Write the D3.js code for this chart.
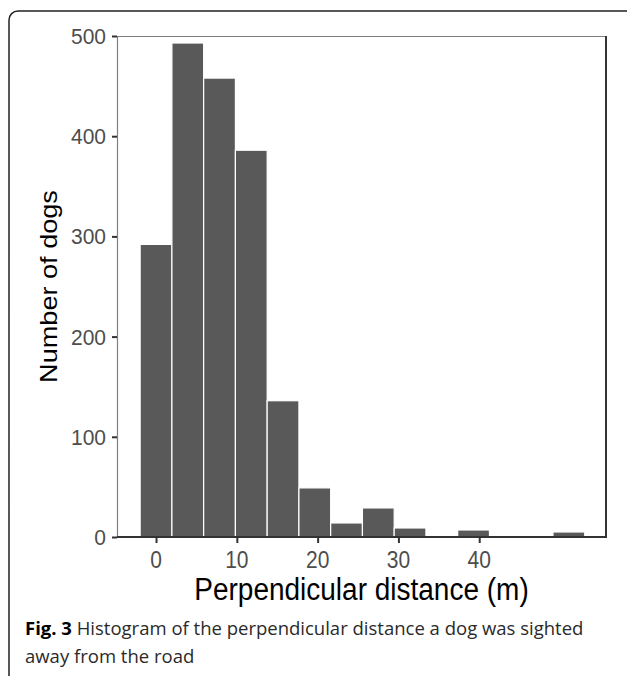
<!DOCTYPE html>
<html>
<head>
<meta charset="utf-8">
<script src="https://cdn.jsdelivr.net/npm/d3@7"></script>
<style>
  html, body { margin: 0; padding: 0; background: #fff; }
  svg { display: block; }
</style>
</head>
<body>
<svg id="chart" width="627" height="676"></svg>
<script>
// ---- data ----
const binCenters = [0, 3.93, 7.86, 11.79, 15.72, 19.65, 23.58, 27.51, 31.44, 35.37, 39.3, 43.23, 47.16, 51.09];
const binWidth = 3.93;
const counts = [292, 493, 458, 386, 136, 49, 14, 29, 9, 0, 7, 0, 0, 5];
const xTicks = [0, 10, 20, 30, 40];
const yTicks = [0, 100, 200, 300, 400, 500];
const xTitle = "Perpendicular distance (m)";
const yTitle = "Number of dogs";
const captionBold = "Fig. 3";
const captionLine1 = " Histogram of the perpendicular distance a dog was sighted";
const captionLine2 = "away from the road";

const svg = d3.select("#chart");
const panel = { left: 117, right: 606, top: 36, bottom: 537 };
const chartFont = "'Liberation Sans', Arial, sans-serif";

// frame
svg.append("rect")
  .attr("x", 9).attr("y", 11)
  .attr("width", 640).attr("height", 700)
  .attr("rx", 9).attr("ry", 9)
  .attr("fill", "none").attr("stroke", "#222").attr("stroke-width", 1.5);

const x = d3.scaleLinear().domain([-4.83, 55.69]).range([panel.left, panel.right]);
const y = d3.scaleLinear().domain([0, 500]).range([panel.bottom, panel.top]);

const data = binCenters.map((c, i) => ({ c, n: counts[i] }));

// bars
svg.append("g").selectAll("rect")
  .data(data.filter(d => d.n > 0))
  .join("rect")
  .attr("x", d => x(d.c - binWidth / 2))
  .attr("width", d => x(d.c + binWidth / 2) - x(d.c - binWidth / 2))
  .attr("y", d => y(d.n))
  .attr("height", d => y(0) - y(d.n))
  .attr("fill", "#595959")
  .attr("stroke", "#ffffff")
  .attr("stroke-width", 1.2);

// panel border lines
svg.append("line").attr("x1", panel.left).attr("x2", panel.right)
  .attr("y1", panel.top + 0.5).attr("y2", panel.top + 0.5)
  .attr("stroke", "#808080").attr("stroke-width", 1.2);
svg.append("line").attr("x1", panel.left + 0.5).attr("x2", panel.left + 0.5)
  .attr("y1", panel.top).attr("y2", panel.bottom)
  .attr("stroke", "#808080").attr("stroke-width", 1.2);
svg.append("line").attr("x1", panel.left).attr("x2", panel.right + 1)
  .attr("y1", panel.bottom).attr("y2", panel.bottom)
  .attr("stroke", "#333").attr("stroke-width", 2);
svg.append("line").attr("x1", panel.right).attr("x2", panel.right)
  .attr("y1", panel.top).attr("y2", panel.bottom)
  .attr("stroke", "#333").attr("stroke-width", 2);

// y axis (ticks via d3 axis, labels drawn slightly stretched like the reference)
const yAxis = d3.axisLeft(y).tickValues(yTicks).tickSize(5).tickFormat("");
const gy = svg.append("g").attr("transform", `translate(${panel.left},0)`).call(yAxis);
gy.select(".domain").remove();
gy.selectAll(".tick line").attr("stroke", "#333").attr("stroke-width", 2);
svg.append("g").selectAll("text")
  .data(yTicks)
  .join("text")
  .attr("transform", d => `translate(106,${y(d) + 8}) scale(1,1.08)`)
  .attr("text-anchor", "end")
  .attr("fill", "#4d4d4d")
  .style("font-family", chartFont)
  .style("font-size", "21px")
  .text(d => d3.format("d")(d));

// x axis
const xAxis = d3.axisBottom(x).tickValues(xTicks).tickSize(6).tickFormat("");
const gx = svg.append("g").attr("transform", `translate(0,${panel.bottom})`).call(xAxis);
gx.select(".domain").remove();
gx.selectAll(".tick line").attr("stroke", "#333").attr("stroke-width", 2);
svg.append("g").selectAll("text")
  .data(xTicks)
  .join("text")
  .attr("transform", d => `translate(${x(d)},567.5) scale(1,1.1)`)
  .attr("text-anchor", "middle")
  .attr("fill", "#4d4d4d")
  .style("font-family", chartFont)
  .style("font-size", "21px")
  .text(d => d3.format("d")(d));

// axis titles
svg.append("text")
  .attr("transform", `translate(${(panel.left + panel.right) / 2},600) scale(1,1.1)`)
  .attr("text-anchor", "middle")
  .style("font-family", chartFont)
  .style("font-size", "28px").attr("fill", "#000")
  .text(xTitle);

svg.append("text")
  .attr("transform", `translate(57,${(panel.top + panel.bottom) / 2}) rotate(-90) scale(1.13,1)`)
  .attr("text-anchor", "middle")
  .style("font-family", chartFont)
  .style("font-size", "24px").attr("fill", "#000")
  .text(yTitle);

// caption
const cap = svg.append("text")
  .attr("x", 25).attr("y", 635)
  .style("font-family", "'Open Sans', sans-serif")
  .style("font-size", "18.5px").attr("fill", "#2a2a2a");
cap.append("tspan").style("font-weight", "bold").attr("fill", "#000").text(captionBold);
cap.append("tspan").text(captionLine1);
svg.append("text")
  .attr("x", 25).attr("y", 663)
  .style("font-family", "'Open Sans', sans-serif")
  .style("font-size", "18.5px").attr("fill", "#2a2a2a")
  .text(captionLine2);
</script>
</body>
</html>
